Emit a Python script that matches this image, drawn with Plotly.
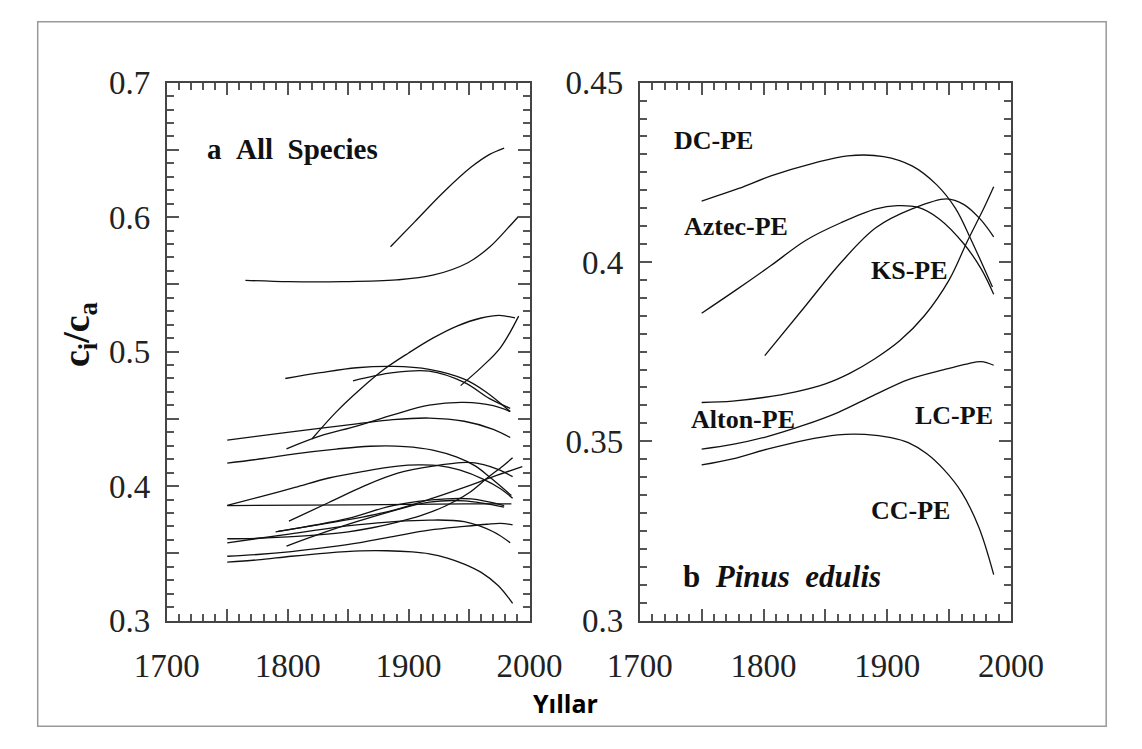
import plotly.graph_objects as go

# ---------------- data ----------------
# Panel b (Pinus edulis) series, also drawn in panel a
dc_pe_year = [1750, 1780, 1806, 1840, 1868, 1897, 1920, 1940, 1955, 1968, 1985]
dc_pe_val = [0.417, 0.4205, 0.424, 0.4275, 0.4296, 0.4294, 0.4268, 0.4215, 0.4150, 0.4060, 0.3930]

aztec_pe_year = [1750, 1777, 1806, 1834, 1863, 1891, 1908, 1925, 1942, 1962, 1976, 1986]
aztec_pe_val = [0.3857, 0.392, 0.399, 0.406, 0.411, 0.4148, 0.4157, 0.4152, 0.412, 0.405, 0.398, 0.391]

ks_pe_year = [1801, 1834, 1863, 1891, 1920, 1948, 1962, 1975, 1986]
ks_pe_val = [0.3739, 0.3878, 0.400, 0.4096, 0.4148, 0.4176, 0.4160, 0.4120, 0.4070]

alton_pe_year = [1750, 1775, 1800, 1825, 1850, 1870, 1890, 1910, 1930, 1950, 1965, 1978, 1986]
alton_pe_val = [0.3608, 0.3612, 0.3622, 0.3637, 0.3660, 0.3690, 0.3730, 0.3780, 0.3850, 0.3950, 0.4060, 0.4150, 0.4210]

lc_pe_year = [1750, 1775, 1803, 1832, 1860, 1889, 1917, 1946, 1965, 1976, 1986]
lc_pe_val = [0.3478, 0.3491, 0.3513, 0.3544, 0.3580, 0.3628, 0.3672, 0.3700, 0.3716, 0.3722, 0.3712]

cc_pe_year = [1750, 1775, 1803, 1832, 1860, 1882, 1903, 1917, 1932, 1946, 1960, 1974, 1986]
cc_pe_val = [0.3434, 0.3451, 0.3478, 0.3502, 0.3518, 0.3519, 0.3510, 0.3496, 0.3465, 0.3420, 0.3358, 0.3260, 0.3128]

# Panel a: other species
sp_a_year = [1885, 1905, 1929, 1952, 1967, 1979]
sp_a_val = [0.578, 0.5965, 0.6187, 0.6374, 0.6467, 0.6514]
sp_b_year = [1765, 1801, 1845, 1890, 1920, 1949, 1967, 1982, 1991]
sp_b_val = [0.553, 0.552, 0.552, 0.5533, 0.5568, 0.5661, 0.5778, 0.5918, 0.6007]
sp_c_year = [1820, 1840, 1860, 1880, 1900, 1920, 1940, 1960, 1975, 1988]
sp_c_val = [0.435, 0.455, 0.472, 0.487, 0.499, 0.510, 0.519, 0.525, 0.527, 0.525]
sp_d_year = [1943, 1961, 1976, 1991]
sp_d_val = [0.4747, 0.489, 0.503, 0.5264]
sp_e_year = [1798, 1827, 1857, 1887, 1917, 1946, 1964, 1984]
sp_e_val = [0.480, 0.4843, 0.488, 0.489, 0.4868, 0.4795, 0.470, 0.4554]
sp_f_year = [1854, 1887, 1917, 1946, 1967, 1984]
sp_f_val = [0.4783, 0.4843, 0.4855, 0.4771, 0.465, 0.4578]
sp_g_year = [1799, 1827, 1857, 1887, 1917, 1946, 1970, 1984]
sp_g_val = [0.4277, 0.4373, 0.4446, 0.453, 0.4602, 0.4622, 0.4598, 0.4554]
sp_h_year = [1750, 1798, 1857, 1887, 1917, 1946, 1970, 1984]
sp_h_val = [0.4342, 0.4398, 0.4463, 0.4494, 0.4506, 0.4482, 0.4422, 0.4361]
sp_i_year = [1750, 1857, 1946, 1985]
sp_i_val = [0.3855, 0.386, 0.3867, 0.3867]
sp_j_year = [1790, 1850, 1887, 1920, 1946, 1970, 1994]
sp_j_val = [0.366, 0.375, 0.382, 0.391, 0.399, 0.407, 0.4145]
sp_k_year = [1750, 1798, 1857, 1917, 1946, 1970, 1984]
sp_k_val = [0.3578, 0.3639, 0.3711, 0.3747, 0.3735, 0.366, 0.3578]
sp_l_year = [1792, 1850, 1887, 1931, 1952, 1979]
sp_l_val = [0.3663, 0.376, 0.3855, 0.3904, 0.3904, 0.3855]
sp_m_year = [1799, 1857, 1917, 1946, 1979]
sp_m_val = [0.3554, 0.3735, 0.388, 0.389, 0.3843]

pe_series = [
    (dc_pe_year, dc_pe_val), (aztec_pe_year, aztec_pe_val), (ks_pe_year, ks_pe_val),
    (alton_pe_year, alton_pe_val), (lc_pe_year, lc_pe_val), (cc_pe_year, cc_pe_val),
]
other_series = [
    (sp_a_year, sp_a_val), (sp_b_year, sp_b_val), (sp_c_year, sp_c_val), (sp_d_year, sp_d_val),
    (sp_e_year, sp_e_val), (sp_f_year, sp_f_val), (sp_g_year, sp_g_val), (sp_h_year, sp_h_val),
    (sp_i_year, sp_i_val), (sp_j_year, sp_j_val), (sp_k_year, sp_k_val), (sp_l_year, sp_l_val),
    (sp_m_year, sp_m_val),
]

x_tickvals = [1700, 1750, 1800, 1850, 1900, 1950, 2000]
x_ticktext = ["1700", " ", "1800", " ", "1900", " ", "2000"]
ya_tickvals = [0.3, 0.35, 0.4, 0.45, 0.5, 0.55, 0.6, 0.65, 0.7]
ya_ticktext = ["0.3", " ", "0.4", " ", "0.5", " ", "0.6", " ", "0.7"]
yb_tickvals = [0.3, 0.35, 0.4, 0.45]
yb_ticktext = ["0.3", "0.35", "0.4", "0.45"]

# pe labels: (text, year, value)
pe_labels = [
    ("DC-PE", 1726, 0.4339), ("Aztec-PE", 1734, 0.4100), ("KS-PE", 1885, 0.3976),
    ("Alton-PE", 1740, 0.3562), ("LC-PE", 1921, 0.3571), ("CC-PE", 1885, 0.3307),
]

# ---------------- figure ----------------
W, H = 1142, 749
NB = "\u00a0"
fig = go.Figure()
line_style = dict(color="#111", width=1.3, shape="spline", smoothing=1.0)

for yr, v in other_series + pe_series:
    fig.add_trace(go.Scatter(x=yr, y=v, mode="lines", line=line_style,
                             xaxis="x", yaxis="y", showlegend=False, hoverinfo="skip"))
for yr, v in pe_series:
    fig.add_trace(go.Scatter(x=yr, y=v, mode="lines", line=line_style,
                             xaxis="x2", yaxis="y2", showlegend=False, hoverinfo="skip"))

serif = "Liberation Serif, Times New Roman, serif"
tickfont = dict(family=serif, size=33, color="#222")
TICKC = "#555"

def xaxis(domain, anchor):
    return dict(domain=domain, anchor=anchor, range=[1700, 2000], tickmode="array",
                tickvals=x_tickvals, ticktext=x_ticktext, ticks="inside", ticklen=12,
                tickwidth=2, tickcolor=TICKC, showline=True, linecolor="#444",
                linewidth=1.8, mirror="allticks", showgrid=False, zeroline=False,
                tickfont=tickfont, ticklabelstandoff=15,
                minor=dict(tickmode="linear", dtick=10, tick0=1700, ticks="inside", ticklen=7,
                           tickcolor=TICKC, tickwidth=1.8, showgrid=False))

def yaxis(domain, anchor, rng, tv, tt, mdt):
    return dict(domain=domain, anchor=anchor, range=rng, tickmode="array",
                tickvals=tv, ticktext=tt, ticks="inside", ticklen=12, tickwidth=2,
                tickcolor=TICKC, showline=True, linecolor="#444", linewidth=1.8,
                mirror="allticks", showgrid=False, zeroline=False, tickfont=tickfont,
                ticklabelstandoff=8,
                minor=dict(tickmode="linear", dtick=mdt, tick0=0.3, ticks="inside", ticklen=7,
                           tickcolor=TICKC, tickwidth=1.8, showgrid=False))

ydom = [1 - 634 / H, 1 - 69 / H]
fig.update_layout(
    width=W, height=H, margin=dict(l=0, r=0, t=0, b=0),
    paper_bgcolor="white", plot_bgcolor="white",
    xaxis=xaxis([142 / W, 527 / W], "y"),
    yaxis=yaxis(ydom, "x", [0.3, 0.7], ya_tickvals, ya_ticktext, 0.01),
    xaxis2=xaxis([644 / W, 1038 / W], "y2"),
    yaxis2=yaxis(ydom, "x2", [0.3, 0.45], yb_tickvals, yb_ticktext, 0.005),
)

ann = []
ann.append(dict(text="<b>a" + NB * 2 + "All" + NB * 2 + "Species</b>", x=1732, y=0.6507,
                xref="x", yref="y", xanchor="left", yanchor="middle", showarrow=False,
                font=dict(family=serif, size=29, color="#111")))
for t, xx, yy in pe_labels:
    ann.append(dict(text="<b>" + t + "</b>", x=xx, y=yy, xref="x2", yref="y2",
                    xanchor="left", yanchor="middle", showarrow=False,
                    font=dict(family=serif, size=26, color="#111")))
ann.append(dict(text="<b>b</b>" + NB * 2 + "<b><i>Pinus" + NB * 2 + "edulis</i></b>",
                x=1733, y=0.3124, xref="x2", yref="y2", xanchor="left", yanchor="middle",
                showarrow=False, font=dict(family=serif, size=31, color="#111")))
ann.append(dict(text="<b>c<sub>i</sub>/c<sub>a</sub></b>", x=49 / W, y=1 - 334 / H,
                xref="paper", yref="paper", xanchor="center", yanchor="middle",
                textangle=-90, showarrow=False,
                font=dict(family=serif, size=38, color="#111")))
ann.append(dict(text="<b>Yıllar</b>", x=565 / W, y=1 - 721 / H, xref="paper", yref="paper",
                xanchor="center", yanchor="middle", showarrow=False,
                font=dict(family="Open Sans, sans-serif", size=25, color="#000")))
fig.update_layout(annotations=ann)

fig.add_shape(type="rect", xref="paper", yref="paper", x0=5 / W, x1=1 - 3 / W,
              y0=4 / H, y1=1 - 5 / H, line=dict(color="#999", width=1.5),
              fillcolor="rgba(0,0,0,0)", layer="below")

fig.write_html("out.html")
